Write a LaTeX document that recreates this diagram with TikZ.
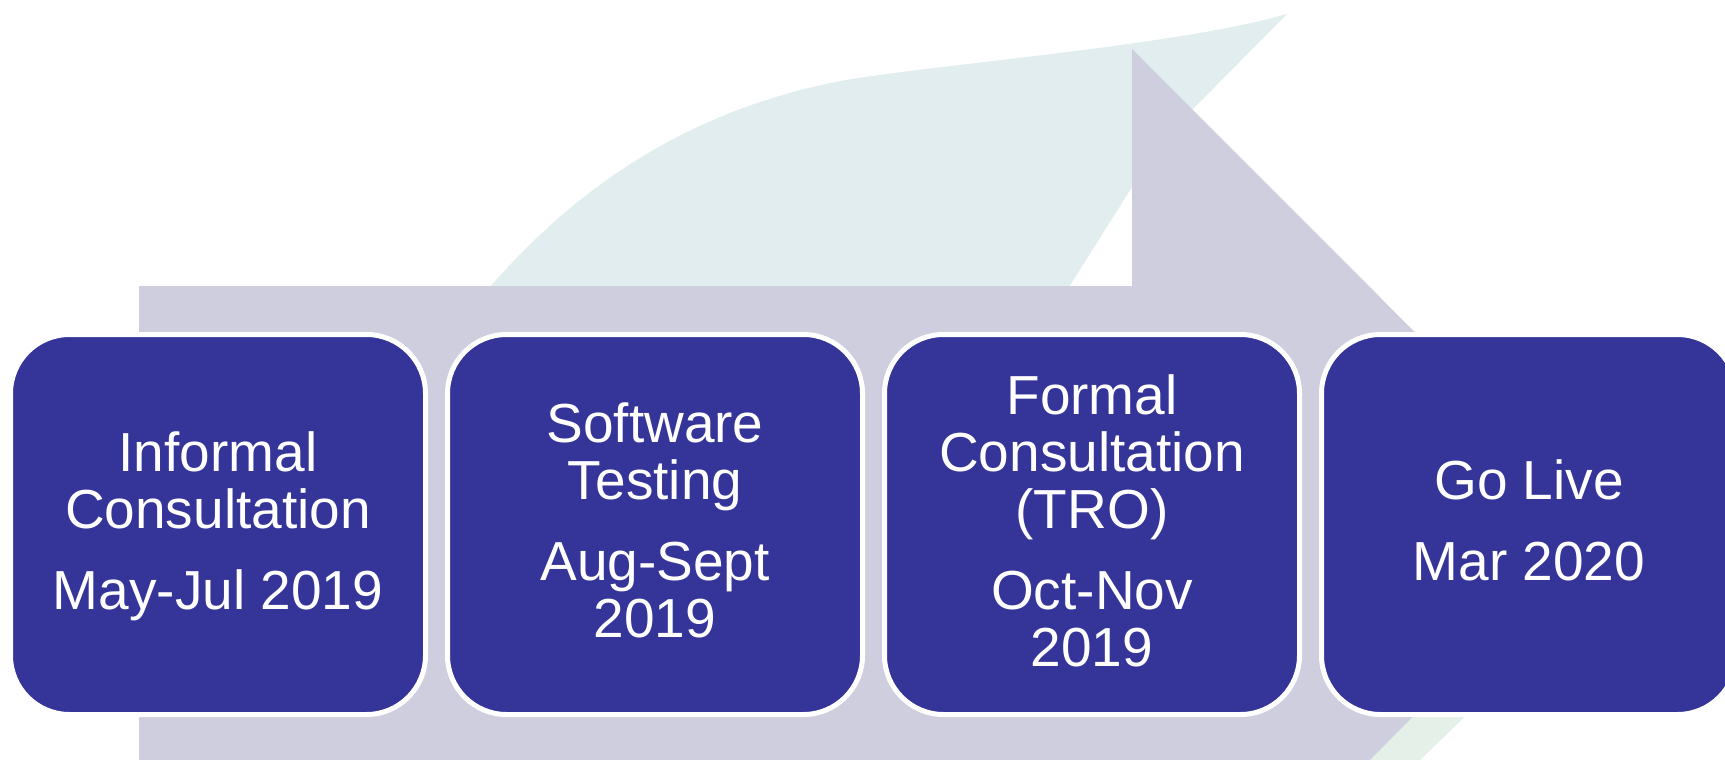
\documentclass[tikz,border=0pt]{standalone}
\usepackage{fontspec}
\setmainfont{Liberation Sans}
\definecolor{boxblue}{RGB}{53,52,153}
\definecolor{arrowgray}{RGB}{206,206,223}
\definecolor{leafteal}{RGB}{225,237,238}
\definecolor{leafgreen}{RGB}{228,240,232}
\newcommand{\firstln}{\rule{0pt}{45pt}}
\newcommand{\lastln}{\rule[-14pt]{0pt}{14pt}}
\begin{document}
\begin{tikzpicture}[x=1pt,y=-1pt,
  stepbox/.style={draw=white, line width=5pt, fill=boxblue, rounded corners=59pt,
    minimum width=415pt, minimum height=380pt, inner sep=0pt, text=white,
    align=center, font=\fontsize{55}{57}\selectfont}]
\clip (0,0) rectangle (1725,760);
\fill[white] (0,0) rectangle (1725,760);
% background leaf
\fill[leafteal] (440,350) .. controls (520,240) and (640,118) .. (846,80)
  .. controls (950,63) and (1180,45) .. (1287,14)
  -- (1192,110) -- (1132,187) -- (1069,287) -- (1040,360) -- cycle;
\fill[leafgreen] (1390,700) -- (1482,700) -- (1420,760) -- (1330,760) -- cycle;
% big arrow
\fill[arrowgray] (139,286) -- (1132,286) -- (1132,49) -- (1606,523.5) -- (1132,998) -- (1132,761) -- (139,761) -- cycle;
% steps
\node[stepbox] (s1) at (218,524.5) {\firstln Informal\\Consultation\\[24pt]May-Jul 2019\lastln};
\node[stepbox] (s2) at (655,524.5) {\firstln Software\\Testing\\[24pt]Aug-Sept\\2019\lastln};
\node[stepbox] (s3) at (1092,524.5) {\firstln Formal\\Consultation\\(TRO)\\[24pt]Oct-Nov\\2019\lastln};
\node[stepbox] (s4) at (1529,524.5) {\firstln Go Live\\[24pt]Mar 2020\lastln};
\end{tikzpicture}
\end{document}
